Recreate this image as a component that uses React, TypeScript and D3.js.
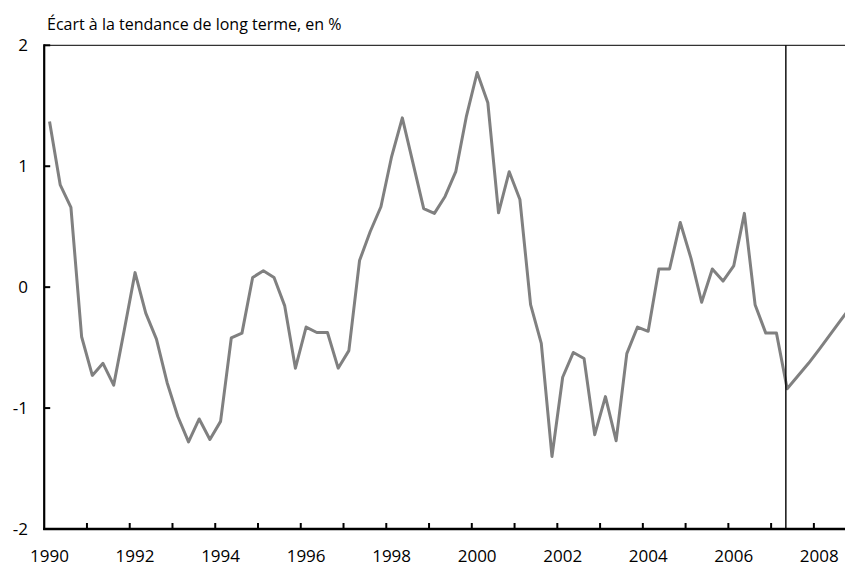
import React from "react";
import * as d3 from "d3";

// Quarterly deviation from long-term trend, 1990Q1 – 2008Q4 (%)
const years = d3.range(1990, 2009);
const quarters = years.flatMap((y) => [1, 2, 3, 4].map((q) => `${y}T${q}`));
const values = [
  1.37, 0.845, 0.66, -0.41,
  -0.73, -0.63, -0.81, -0.35,
  0.12, -0.215, -0.43, -0.79,
  -1.07, -1.28, -1.09, -1.26,
  -1.11, -0.42, -0.38, 0.08,
  0.135, 0.08, -0.155, -0.67,
  -0.33, -0.375, -0.375, -0.67,
  -0.525, 0.22, 0.46, 0.665,
  1.08, 1.4, 1.025, 0.65,
  0.61, 0.75, 0.955, 1.415,
  1.775, 1.525, 0.615, 0.955,
  0.725, -0.145, -0.465, -1.4,
  -0.745, -0.54, -0.59, -1.22,
  -0.905, -1.27, -0.55, -0.33,
  -0.365, 0.15, 0.15, 0.535,
  0.24, -0.125, 0.15, 0.05,
  0.175, 0.61, -0.145, -0.38,
  -0.38, -0.84, -0.735, -0.63,
  -0.515, -0.395, -0.275, -0.155,
];
const xTickLabels = ["1990", "1992", "1994", "1996", "1998", "2000", "2002", "2004", "2006", "2008"];
const yTicks = [2, 1, 0, -1, -2];
const markerQuarter = "2007T2";
const title = "Écart à la tendance de long terme, en %";

const W = 845;
const H = 567;
const left = 44.2;
const step = 10.69;
const top = 45.3;
const bottom = 529;
const FONT = "'Open Sans', Lato, sans-serif";

export default function App() {
  const x = d3
    .scaleLinear()
    .domain([0, quarters.length])
    .range([left, left + quarters.length * step]);
  const xc = (i: number) => x(i + 0.5);
  const y = d3.scaleLinear().domain([-2, 2]).range([bottom, top]);

  const line = d3
    .line<number>()
    .x((_, i) => xc(i))
    .y((d) => y(d));

  const yearBoundaries = years.slice(1).map((yr) => quarters.indexOf(`${yr}T1`));
  const mi = quarters.indexOf(markerQuarter);
  const right = W;

  return (
    <svg
      width={W}
      height={H}
      style={{ position: "absolute", left: 0, top: 0, background: "#fff" }}
      fontFamily={FONT}
    >
      <text x={47} y={30} fontSize={16} fill="#000">
        {title}
      </text>
      {/* top border */}
      <line x1={left} x2={right} y1={top} y2={top} stroke="#333" strokeWidth={1.3} />
      {/* data line */}
      <path
        d={line(values) || ""}
        fill="none"
        stroke="#808080"
        strokeWidth={3}
        strokeLinejoin="round"
      />
      {/* vertical marker */}
      <line
        x1={xc(mi) - 1.3}
        x2={xc(mi) - 1.3}
        y1={top}
        y2={bottom}
        stroke="#000"
        strokeWidth={1.4}
      />
      {/* y axis */}
      <line x1={left} x2={left} y1={top - 1} y2={bottom + 1} stroke="#000" strokeWidth={2.2} />
      {yTicks.map((t) => (
        <g key={t}>
          <line x1={left} x2={left + 6} y1={y(t)} y2={y(t)} stroke="#000" strokeWidth={2} />
          <text x={28} y={y(t)} dy="0.36em" textAnchor="end" fontSize={17} fill="#000">
            {t}
          </text>
        </g>
      ))}
      {/* x axis */}
      <line x1={left - 1} x2={right} y1={bottom} y2={bottom} stroke="#000" strokeWidth={2.4} />
      {yearBoundaries.map((i) => (
        <line key={i} x1={x(i)} x2={x(i)} y1={bottom} y2={bottom - 6} stroke="#000" strokeWidth={2} />
      ))}
      {xTickLabels.map((lab) => {
        const i = quarters.indexOf(`${lab}T1`);
        return (
          <text key={lab} x={xc(i)} y={562} textAnchor="middle" fontSize={17} fill="#000">
            {lab}
          </text>
        );
      })}
    </svg>
  );
}
